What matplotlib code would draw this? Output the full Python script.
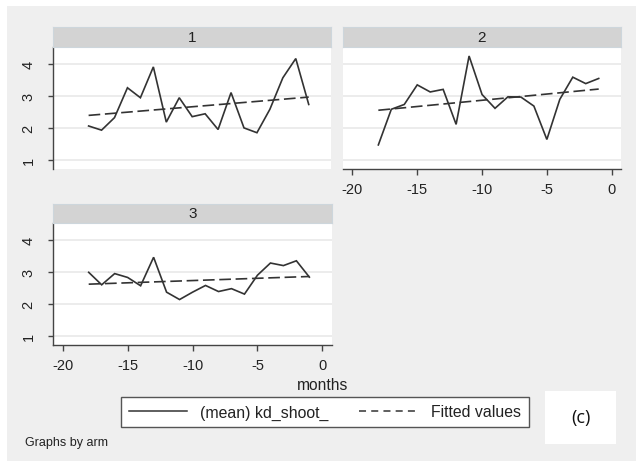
import matplotlib
matplotlib.use('Agg')
import matplotlib.pyplot as plt
from matplotlib.lines import Line2D
from matplotlib.patches import Rectangle

# ---- data ----
months = [-18, -17, -16, -15, -14, -13, -12, -11, -10, -9, -8, -7, -6, -5, -4, -3, -2, -1]
panel_labels = ['1', '2', '3']
arm1 = [2.06, 1.93, 2.32, 3.25, 2.94, 3.90, 2.18, 2.94, 2.35, 2.44, 1.95, 3.10, 2.00, 1.85, 2.58, 3.56, 4.16, 2.73]
arm2 = [1.47, 2.58, 2.73, 3.34, 3.12, 3.20, 2.11, 4.24, 3.04, 2.61, 2.97, 2.96, 2.68, 1.64, 2.89, 3.58, 3.38, 3.54]
arm3 = [2.98, 2.59, 2.94, 2.82, 2.56, 3.45, 2.36, 2.13, 2.36, 2.57, 2.38, 2.47, 2.30, 2.89, 3.27, 3.19, 3.34, 2.83]
fit_months = [-18, -1]
fit1 = [2.39, 2.96]
fit2 = [2.55, 3.21]
fit3 = [2.61, 2.85]
x_ticks = [-20, -15, -10, -5, 0]
y_ticks = [1, 2, 3, 4]
legend_labels = ['(mean) kd_shoot_', 'Fitted values']
x_title = 'months'
note = 'Graphs by arm'
tag = '(c)'

plt.rcParams['font.family'] = ['Liberation Sans', 'DejaVu Sans']
plt.rcParams['axes.unicode_minus'] = False

W, H = 636, 464
fig = plt.figure(figsize=(W / 100, H / 100), dpi=100)
fig.patch.set_facecolor('white')


def rect(l, t, r, b):
    return [l / W, 1 - b / H, (r - l) / W, (b - t) / H]


fig.add_artist(Rectangle((7 / W, 1 - 462 / H), (W - 7) / W, (462 - 7) / H,
                         transform=fig.transFigure, facecolor='#efefef',
                         edgecolor='none', zorder=-10))

LINE = '#333333'
AXC = '#444444'
panels = [
    (arm1, fit1, (53, 48, 331, 170), True, False),
    (arm2, fit2, (342.7, 48, 621, 170), False, True),
    (arm3, fit3, (53, 224, 331.7, 345.7), True, True),
]

for i, (vals, fit, (l, t, r, b), show_y, show_x) in enumerate(panels):
    ax = fig.add_axes(rect(l, t, r, b))
    ax.set_facecolor('white')
    ax.set_xlim(-20.75, 0.72)
    ax.set_ylim(0.72, 4.52)
    ax.set_yticks(y_ticks)
    ax.set_xticks(x_ticks)
    ax.yaxis.grid(True, color='#ececec', linewidth=1.4)
    ax.set_axisbelow(True)
    for s in ['top', 'right']:
        ax.spines[s].set_visible(False)
    ax.spines['left'].set_visible(show_y)
    ax.spines['bottom'].set_visible(show_x)
    for s in ['left', 'bottom']:
        ax.spines[s].set_color(AXC)
        ax.spines[s].set_linewidth(1.0)
    ax.tick_params(axis='y', left=show_y, labelleft=show_y, length=3.6,
                   width=1.0, color=AXC, pad=9, labelsize=10.5, labelrotation=90,
                   labelcolor='#222222')
    ax.tick_params(axis='x', bottom=show_x, labelbottom=show_x, length=4.3,
                   width=1.0, color=AXC, pad=5, labelsize=10.5,
                   labelcolor='#222222')
    for lab in ax.get_yticklabels():
        lab.set_va('center')
    ax.plot(months, vals, color=LINE, linewidth=1.2, solid_joinstyle='miter')
    ax.plot(fit_months, fit, color=LINE, linewidth=1.2, dashes=(7, 2.8))

    st = fig.add_axes(rect(l, t - 20 if i < 2 else t - 19, r, t))
    st.set_facecolor('#d3d3d3')
    st.set_xticks([])
    st.set_yticks([])
    for s in st.spines.values():
        s.set_color('#cdd6dc')
        s.set_linewidth(0.8)
    st.text(0.5, 0.5, panel_labels[i], transform=st.transAxes, ha='center',
            va='center', fontsize=11, color='#222222')

fig.text(323 / W, 1 - 385 / H, x_title, ha='center', va='center',
         fontsize=11.2, color='#222222')

handles = [Line2D([], [], color=LINE, linewidth=1.1),
           Line2D([], [], color=LINE, linewidth=1.1, dashes=(4.6, 3.4))]
leg = fig.legend(handles, legend_labels, loc='center',
                 bbox_to_anchor=(324.7 / W, 1 - 413 / H), ncol=2,
                 fontsize=11.4, frameon=True, fancybox=False,
                 handlelength=3.66, handletextpad=0.88, columnspacing=1.9,
                 borderpad=0.5, borderaxespad=0)
fr = leg.get_frame()
fr.set_edgecolor('#555555')
fr.set_linewidth(1.0)
fr.set_facecolor('white')
fr.set_alpha(1)
for tx in leg.get_texts():
    tx.set_color('#222222')

fig.text(25 / W, 1 - 443 / H, note, ha='left', va='center', fontsize=9,
         color='#222222')

fig.add_artist(Rectangle((545 / W, 1 - 445 / H), 71 / W, 53 / H,
                         transform=fig.transFigure, facecolor='white',
                         edgecolor='none'))
fig.text(580.5 / W, 1 - 418 / H, tag, ha='center', va='center', fontsize=13,
         color='#111111', family=['Open Sans', 'DejaVu Sans'])

fig.savefig('out.png', dpi=100, facecolor=fig.get_facecolor())
